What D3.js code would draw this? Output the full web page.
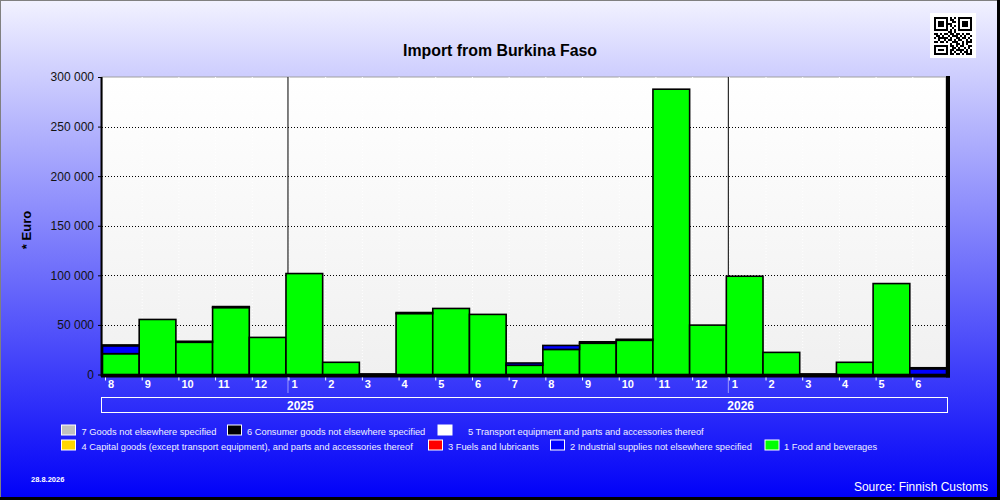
<!DOCTYPE html>
<html><head><meta charset="utf-8">
<script src="https://cdn.jsdelivr.net/npm/d3@7"></script>
<style>html,body{margin:0;padding:0;background:#fff}svg{display:block}</style>
</head><body>
<svg id="c" width="1000" height="500"></svg>
<script>
const periods = ["2024-08","2024-09","2024-10","2024-11","2024-12","2025-01","2025-02","2025-03","2025-04","2025-05","2025-06","2025-07","2025-08","2025-09","2025-10","2025-11","2025-12","2026-01","2026-02","2026-03","2026-04","2026-05","2026-06"];
const monthLabels = ["8","9","10","11","12","1","2","3","4","5","6","7","8","9","10","11","12","1","2","3","4","5","6"];
const yearLabels = ["2025","2026"];
const yearStarts = ["2025-01","2026-01"];
const food        = [21000,55500,32500,67500,37400,101800,12300,0,61500,66600,60600,9300,25300,31500,34500,287700,49800,99100,22300,0,12300,91700,0];
const industrial  = [8000,0,0,0,0,0,0,0,0,0,0,2300,4000,0,0,0,0,0,0,0,0,0,5800];
const fuels       = [0,0,0,0,0,0,0,0,0,0,0,0,0,0,0,0,0,0,0,0,0,0,0];
const capital     = [0,0,0,0,0,0,0,0,0,0,0,0,0,0,0,0,0,0,0,0,0,0,0];
const transport   = [0,0,0,0,0,0,0,0,0,0,0,0,0,0,0,0,0,0,0,0,0,0,0];
const consumer    = [800,0,1000,1000,0,0,0,600,1000,0,0,0,0,1500,1000,0,0,0,0,600,0,0,1000];
const other       = [0,0,0,0,0,0,0,0,0,0,0,0,0,0,0,0,0,0,0,0,0,0,0];
const yTicks = [0,50000,100000,150000,200000,250000,300000];
const seriesNames = ["1 Food and beverages","2 Industrial supplies not elsewhere specified","3 Fuels and lubricants","4 Capital goods (except transport equipment), and parts and accessories thereof","5  Transport equipment and parts and accessories thereof","6 Consumer goods not elsewhere specified","7 Goods not elsewhere specified"];
const seriesColors = ["#00ff00","#0000ff","#ff0000","#ffd700","#ffffff","#000000","#c0c0c0"];
const seriesValues = [food,industrial,fuels,capital,transport,consumer,other];

const svg = d3.select("#c");
const W=1000,H=500;
const F = "'Liberation Sans', Arial, sans-serif";
const defs = svg.append("defs");
const bg = defs.append("linearGradient").attr("id","bg").attr("x1",0).attr("y1",0).attr("x2",0).attr("y2",1);
bg.append("stop").attr("offset","0%").attr("stop-color","#f2f2ff");
bg.append("stop").attr("offset","100%").attr("stop-color","#0000f8");
const pg = defs.append("linearGradient").attr("id","pg").attr("x1",0).attr("y1",0).attr("x2",0).attr("y2",1);
pg.append("stop").attr("offset","0%").attr("stop-color","#ffffff");
pg.append("stop").attr("offset","100%").attr("stop-color","#f0f0f0");

svg.append("rect").attr("x",0).attr("y",0).attr("width",W).attr("height",H).attr("fill","url(#bg)");
// outer frame
svg.append("rect").attr("x",0.5).attr("y",0.5).attr("width",W-1).attr("height",H-1).attr("fill","none").attr("stroke","#808080");
svg.append("line").attr("x1",998.5).attr("x2",998.5).attr("y1",0).attr("y2",H).attr("stroke","#000").attr("stroke-width",3);
svg.append("line").attr("x1",0).attr("x2",W).attr("y1",498.5).attr("y2",498.5).attr("stroke","#000").attr("stroke-width",3);

const L=102,R=946,T=77,B=374.5;
const x = d3.scaleBand().domain(periods).range([L,R]).padding(0);
const y = d3.scaleLinear().domain([0,300000]).range([B,T]);

// plot background
svg.append("rect").attr("x",L).attr("y",T).attr("width",R-L).attr("height",B-T).attr("fill","url(#pg)").attr("stroke","#a0a0a0").attr("stroke-width",1);

// vertical dotted month lines
svg.append("g").selectAll("line").data(periods.slice(1)).join("line")
  .attr("x1",d=>x(d)+3.5).attr("x2",d=>x(d)+3.5).attr("y1",T).attr("y2",B)
  .attr("stroke","#ffffff").attr("stroke-dasharray","1,2");
// gridlines
svg.append("g").selectAll("line").data(yTicks.filter(v=>v>0&&v<300000)).join("line")
  .attr("x1",L).attr("x2",R).attr("y1",d=>Math.round(y(d))+0.5).attr("y2",d=>Math.round(y(d))+0.5)
  .attr("stroke","#000").attr("stroke-dasharray","1,2");
// year lines
svg.append("g").selectAll("line").data(yearStarts).join("line")
  .attr("x1",d=>x(d)+2.5).attr("x2",d=>x(d)+2.5).attr("y1",T).attr("y2",B)
  .attr("stroke","#000").attr("stroke-width",1);

// stacked bars
const table = periods.map((p,i)=>{const o={period:p}; seriesNames.forEach((n,k)=>o[n]=seriesValues[k][i]); return o;});
const stack = d3.stack().keys(seriesNames)(table);
stack.forEach((layer,k)=>{
  svg.append("g").selectAll("rect").data(layer.filter(d=>d[1]-d[0]>0)).join("rect")
    .attr("x",d=>x(d.data.period)+0.5).attr("width",x.bandwidth())
    .attr("y",d=>y(d[1])).attr("height",d=>Math.max(0.5,y(d[0])-y(d[1])))
    .attr("fill",seriesColors[k]).attr("stroke","#000").attr("stroke-width",1.6);
});

// axes frame
svg.append("line").attr("x1",L-0.5).attr("x2",L-0.5).attr("y1",T).attr("y2",B+2).attr("stroke","#000").attr("stroke-width",2);
svg.append("line").attr("x1",L-1).attr("x2",R+4).attr("y1",B+1.5).attr("y2",B+1.5).attr("stroke","#000").attr("stroke-width",3);
svg.append("line").attr("x1",R+2).attr("x2",R+2).attr("y1",T-1).attr("y2",B+3).attr("stroke","#000").attr("stroke-width",4);

// y axis
const ya = svg.append("g").attr("transform",`translate(${L-1},0)`).call(d3.axisLeft(y).tickValues(yTicks).tickSize(3).tickFormat(d=>d3.format(",")(d).replace(/,/g," ")));
ya.select(".domain").remove();
ya.selectAll("line").attr("stroke","#000");
ya.selectAll("text").attr("font-family",F).attr("font-size",12).attr("fill","#111").attr("dx",-1);

// x axis ticks and labels
const xa = svg.append("g");
xa.selectAll("line").data(periods).join("line")
  .attr("x1",d=>x(d)+3.5).attr("x2",d=>x(d)+3.5).attr("y1",B+3).attr("y2",B+6).attr("stroke","#fff");
xa.selectAll("text").data(periods).join("text")
  .attr("x",d=>x(d)+6).attr("y",388).text((d,i)=>monthLabels[i])
  .attr("font-family",F).attr("font-size",11).attr("font-weight","bold").attr("fill","#fff");
// year dotted lines below axis
svg.append("g").selectAll("line").data(yearStarts).join("line")
  .attr("x1",d=>x(d)+2.5).attr("x2",d=>x(d)+2.5).attr("y1",B+3).attr("y2",B+18)
  .attr("stroke","#fff").attr("stroke-dasharray","1,1");
// year box
svg.append("rect").attr("x",101.5).attr("y",397.5).attr("width",846).attr("height",15).attr("fill","none").attr("stroke","#fff").attr("stroke-width",1);
svg.append("g").selectAll("text").data(yearStarts).join("text")
  .attr("x",d=>x(d)+1.5).attr("y",409.5).text((d,i)=>yearLabels[i])
  .attr("font-family",F).attr("font-size",12).attr("font-weight","bold").attr("fill","#fff");

// title
svg.append("text").attr("x",500).attr("y",56).attr("text-anchor","middle").text("Import from Burkina Faso")
  .attr("font-family",F).attr("font-size",16).attr("font-weight","bold").attr("fill","#000").attr("textLength",194).attr("lengthAdjust","spacingAndGlyphs");
// y label
svg.append("text").attr("transform","translate(31,230) rotate(-90)").attr("text-anchor","middle").text("* Euro")
  .attr("font-family",F).attr("font-size",13).attr("font-weight","bold").attr("fill","#000");

// legend
const legendItems = [
  {k:6,x:61,y:424.5,tx:81.5},
  {k:5,x:227,y:424.5,tx:247},
  {k:4,x:437.5,y:424.5,tx:468},
  {k:3,x:61,y:439.5,tx:81.5},
  {k:2,x:428,y:439.5,tx:448},
  {k:1,x:550,y:439.5,tx:570},
  {k:0,x:764.5,y:439.5,tx:784}
];
const lg = svg.append("g");
legendItems.forEach(it=>{
  lg.append("rect").attr("x",it.x+0.5).attr("y",it.y+0.5).attr("width",14).attr("height",10)
    .attr("fill",seriesColors[it.k]).attr("stroke","#fff").attr("stroke-width",1);
  lg.append("text").attr("x",it.tx).attr("y",it.y+10).text(seriesNames[it.k])
    .attr("font-family",F).attr("font-size",9.3).attr("fill","#f0f0ff");
});

// source and date
svg.append("text").attr("x",988).attr("y",491).attr("text-anchor","end").text("Source: Finnish Customs")
  .attr("font-family",F).attr("font-size",12).attr("fill","#fff");
svg.append("text").attr("x",31).attr("y",482).text("28.8.2026")
  .attr("font-family",F).attr("font-size",7.5).attr("font-weight","bold").attr("fill","#fff");

// QR-like badge (decorative)
const qrRows = [
"1111111010101111111",
"1000001011001000001",
"1011101001101011101",
"1011101110001011101",
"1011101010101011101",
"1000001001001000001",
"1111111010101111111",
"0000000110100000000",
"1101011011011010110",
"0110100101110101001",
"1011111010011011010",
"0010010110101100101",
"1101101001110010111",
"0000000010011010100",
"1111111011010110011",
"1000001001101001010",
"1011101011011110101",
"1000001010100101101",
"1111111011011010111"];
const qr = svg.append("g").attr("transform","translate(930,13)");
qr.append("rect").attr("width",46).attr("height",45).attr("fill","#fff");
qrRows.forEach((row,r)=>row.split("").forEach((c,cIdx)=>{ if(c==="1") qr.append("rect").attr("x",4+cIdx*2).attr("y",4+r*2).attr("width",2).attr("height",2).attr("fill","#000"); }));
</script>
</body></html>
